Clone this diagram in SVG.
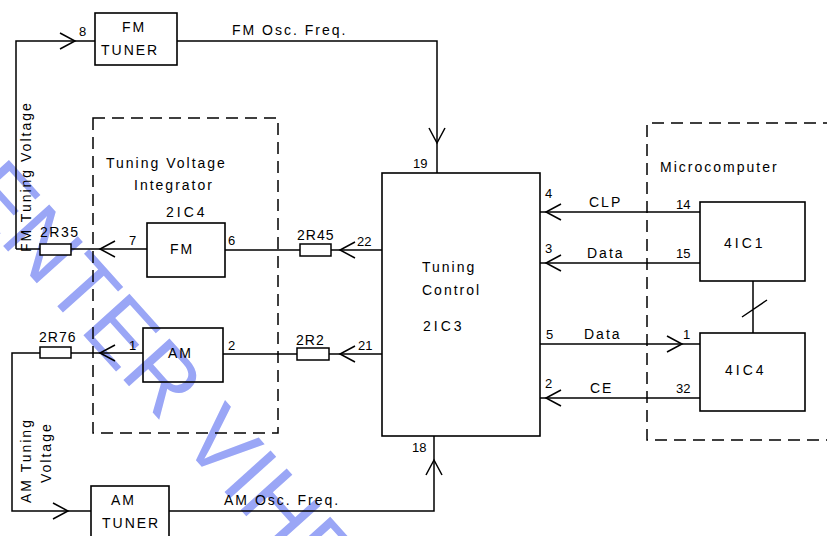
<svg xmlns="http://www.w3.org/2000/svg" width="827" height="536" viewBox="0 0 827 536">
<defs>
<style>
.ln{fill:none;stroke:#000;stroke-width:1.5}
.bx{fill:none;stroke:#000;stroke-width:1.6}
.ds{fill:none;stroke:#000;stroke-width:1.5;stroke-dasharray:12 7}
.rs{fill:#fff;stroke:#000;stroke-width:1.5}
text{font-family:"Liberation Sans",Arial,sans-serif;fill:#000}
.t{font-size:14px;letter-spacing:2px}
.n{font-size:13px}
.wm{font-size:90px;fill:#9aa6f6}
</style>
<marker id="ar" markerUnits="userSpaceOnUse" viewBox="-18 -10 20 20" refX="0" refY="0" markerWidth="20" markerHeight="20" orient="auto" overflow="visible">
<path d="M-15,-8 L0,0 L-15,8" fill="none" stroke="#000" stroke-width="1.5"/>
</marker>
</defs>
<rect width="827" height="536" fill="#fff"/>
<text class="wm" transform="translate(-42,196) rotate(48)">ENTER VIHE</text>

<g id="fm-tuner">
<rect class="bx" x="95" y="13" width="82" height="52"/>
<text class="t" x="122" y="32">FM</text>
<text class="t" x="101" y="55">TUNER</text>
</g>
<g id="am-tuner">
<rect class="bx" x="91" y="486" width="78" height="60"/>
<text class="t" x="111" y="505">AM</text>
<text class="t" x="102" y="528">TUNER</text>
</g>
<g id="integrator">
<rect class="ds" x="93" y="118" width="185" height="315"/>
<text class="t" x="106" y="168">Tuning Voltage</text>
<text class="t" x="134" y="190">Integrator</text>
</g>
<g id="fm-ic">
<text class="t" x="166" y="217" style="letter-spacing:3px">2IC4</text>
<rect class="bx" x="147" y="223" width="78" height="54"/>
<text class="t" x="170" y="254">FM</text>
</g>
<g id="am-ic">
<rect class="bx" x="143" y="328" width="80" height="54"/>
<text class="t" x="168" y="358">AM</text>
</g>
<g id="tuning-control">
<rect class="bx" x="382" y="173" width="158" height="263"/>
<text class="t" x="422" y="272">Tuning</text>
<text class="t" x="422" y="295">Control</text>
<text class="t" x="423" y="331" style="letter-spacing:3px">2IC3</text>
</g>
<g id="microcomputer">
<path class="ds" d="M835,123 H647 V440 H835"/>
<text class="t" x="660" y="172">Microcomputer</text>
</g>
<g id="ic1">
<rect class="bx" x="700" y="202" width="105" height="79"/>
<text class="t" x="724" y="248" style="letter-spacing:3px">4IC1</text>
</g>
<g id="ic4">
<rect class="bx" x="700" y="333" width="105" height="78"/>
<text class="t" x="725" y="375" style="letter-spacing:3px">4IC4</text>
</g>
<g id="resistors">
<rect class="rs" x="40" y="244" width="31" height="11"/>
<rect class="rs" x="40" y="347" width="31" height="11"/>
<rect class="rs" x="300" y="244" width="31" height="12"/>
<rect class="rs" x="297" y="348" width="32" height="12"/>
<text class="t" x="40" y="237" style="letter-spacing:1.5px">2R35</text>
<text class="t" x="39" y="342" style="letter-spacing:1px">2R76</text>
<text class="t" x="297" y="240" style="letter-spacing:1px">2R45</text>
<text class="t" x="296" y="345" style="letter-spacing:1px">2R2</text>
</g>

<g id="connectors">
<path class="ln" d="M16,249 V41 H75" marker-end="url(#ar)"/>
<path class="ln" d="M75,41 H95"/>
<path class="ln" d="M177,41 H437 V143" marker-end="url(#ar)"/>
<path class="ln" d="M437,143 V173"/>
<path class="ln" d="M147,249 H100" marker-end="url(#ar)"/>
<path class="ln" d="M100,249 H71 M40,249 H16"/>
<path class="ln" d="M382,250 H340" marker-end="url(#ar)"/>
<path class="ln" d="M340,250 H331 M300,250 H225"/>
<path class="ln" d="M143,353 H100" marker-end="url(#ar)"/>
<path class="ln" d="M100,353 H71"/>
<path class="ln" d="M40,353 H12 V511 H68" marker-end="url(#ar)"/>
<path class="ln" d="M68,511 H91"/>
<path class="ln" d="M382,354 H340" marker-end="url(#ar)"/>
<path class="ln" d="M340,354 H329 M297,354 H223"/>
<path class="ln" d="M169,511 H434 V460" marker-end="url(#ar)"/>
<path class="ln" d="M434,460 V436"/>
<path class="ln" d="M700,212 H546" marker-end="url(#ar)"/>
<path class="ln" d="M546,212 H540"/>
<path class="ln" d="M700,263 H546" marker-end="url(#ar)"/>
<path class="ln" d="M546,263 H540"/>
<path class="ln" d="M540,344 H682" marker-end="url(#ar)"/>
<path class="ln" d="M682,344 H700"/>
<path class="ln" d="M700,398 H546" marker-end="url(#ar)"/>
<path class="ln" d="M546,398 H540"/>
<path class="ln" d="M753,281 V333 M742,317 L767,300"/>
</g>

<g id="labels">
<text class="n" x="79" y="36">8</text>
<text class="t" x="232" y="35">FM Osc. Freq.</text>
<text class="t" x="224" y="505">AM Osc. Freq.</text>
<text class="t" transform="translate(31,252) rotate(-90)">FM Tuning Voltage</text>
<text class="t" transform="translate(31,503) rotate(-90)">AM Tuning</text>
<text class="t" transform="translate(51,483) rotate(-90)">Voltage</text>
<text class="n" x="129" y="245">7</text>
<text class="n" x="228" y="245">6</text>
<text class="n" x="357" y="246">22</text>
<text class="n" x="129" y="350">1</text>
<text class="n" x="228" y="350">2</text>
<text class="n" x="358" y="350">21</text>
<text class="n" x="413" y="168">19</text>
<text class="n" x="412" y="452">18</text>
<text class="n" x="545" y="198">4</text>
<text class="t" x="589" y="207">CLP</text>
<text class="n" x="676" y="209">14</text>
<text class="n" x="545" y="253">3</text>
<text class="t" x="587" y="258">Data</text>
<text class="n" x="676" y="258">15</text>
<text class="n" x="546" y="339">5</text>
<text class="t" x="584" y="339">Data</text>
<text class="n" x="683" y="339">1</text>
<text class="n" x="545" y="388">2</text>
<text class="t" x="590" y="393">CE</text>
<text class="n" x="676" y="393">32</text>
</g>
</svg>
